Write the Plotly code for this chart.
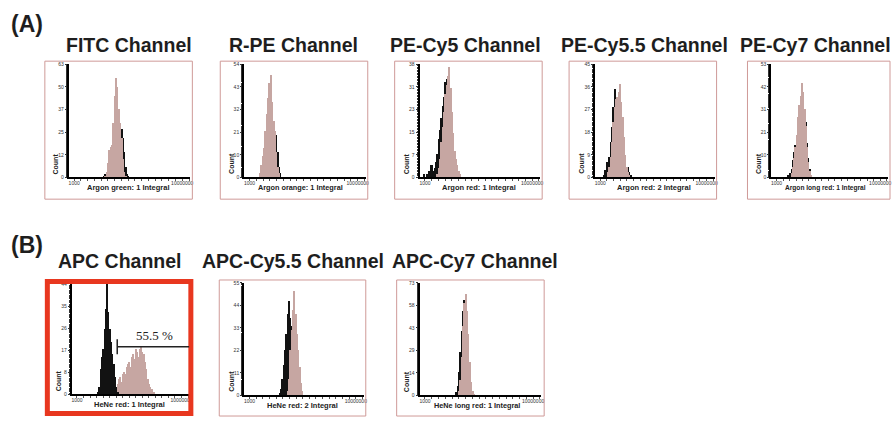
import numpy as np
import plotly.graph_objects as go

W, H = 894, 421
BIN = 0.05

titles = ["FITC Channel", "R-PE Channel", "PE-Cy5 Channel", "PE-Cy5.5 Channel", "PE-Cy7 Channel",
          "APC Channel", "APC-Cy5.5 Channel", "APC-Cy7 Channel"]
xlabels = ["Argon green: 1 Integral", "Argon orange: 1 Integral", "Argon red: 1 Integral",
           "Argon red: 2 Integral", "Argon long red: 1 Integral",
           "HeNe red: 1 Integral", "HeNe red: 2 Integral", "HeNe long red: 1 Integral"]
ymax = [63, 54, 38, 45, 53, 44, 55, 73]
ytick_labels = [["0", "12", "25", "37", "50", "63"],
                ["0", "10", "21", "32", "43", "54"],
                ["0", "7", "15", "23", "31", "38"],
                ["0", "9", "18", "27", "36", "45"],
                ["0", "10", "21", "31", "42", "53"],
                ["0", "8", "17", "26", "35", "44"],
                ["0", "11", "22", "33", "44", "55"],
                ["0", "14", "29", "43", "58", "73"]]
x_tick_vals = [3, 7]
x_tick_text = ["1000", "10000000"]

# histogram counts: (log10 start of first bin, counts)
black_start = [4.10, 3.40, 2.95, 3.15, 3.45, 3.80, 4.15, 4.15]
black_counts = [
    [1, 2, 3, 6, 10, 15, 18, 25, 38, 45, 42, 36, 30, 27, 22, 14, 6, 2, 1],
    [1, 3, 6, 10, 16, 24, 30, 34, 32, 30, 26, 22, 20, 12, 5, 2],
    [1, 0, 1, 1, 2, 4, 4, 2, 3, 5, 8, 13, 16, 20, 24, 27, 32, 33, 30, 28, 26, 20, 14, 9, 5, 3, 1],
    [1, 3, 6, 5, 8, 14, 20, 28, 35, 30, 28, 26, 22, 18, 12, 8, 5, 3, 4, 2, 1],
    [1, 0, 2, 4, 8, 12, 15, 18, 24, 30, 34, 38, 36, 30, 26, 16, 9, 4, 1],
    [1, 3, 10, 15, 18, 26, 34, 44, 33, 26, 21, 16, 12, 7, 3, 1],
    [1, 3, 8, 15, 22, 30, 40, 46, 38, 34, 22, 10, 3, 1],
    [2, 6, 15, 28, 42, 55, 62, 40, 12, 3, 1],
]
pink_start = [4.15, 3.40, 3.45, 3.30, 3.60, 4.45, 4.45, 4.25]
pink_counts = [
    [1, 3, 8, 15, 17, 18, 30, 45, 55, 50, 38, 30, 22, 10, 3, 1],
    [2, 6, 10, 14, 22, 30, 38, 45, 49, 36, 27, 22, 12, 5, 2],
    [1, 3, 6, 12, 17, 22, 28, 31, 34, 37, 30, 22, 15, 9, 6, 4, 2, 1],
    [2, 4, 8, 14, 22, 28, 31, 32, 34, 37, 30, 24, 16, 9, 4, 2, 1],
    [2, 5, 9, 14, 20, 28, 34, 38, 44, 40, 32, 24, 14, 7, 3, 1],
    [1, 2, 4, 6, 7, 5, 8, 9, 8, 11, 12, 13, 11, 15, 16, 14, 18, 17, 15, 18, 19, 17, 16, 13, 10, 6, 4, 3, 2, 1, 1],
    [2, 8, 22, 32, 42, 51, 40, 30, 22, 14, 6, 2],
    [3, 10, 25, 45, 60, 66, 55, 40, 22, 9, 3, 1],
]
gate_label = "55.5 %"
gate_from, gate_to, gate_level = 4.54, 7.3, 19
gate_text_x, gate_text_y = 5.98, 19.6

# layout in pixels: (box left, box top, box right, box bottom), (plot left, top, right, bottom)
boxes = [(45, 59, 193, 199), (221, 59, 369, 199), (396, 59, 544, 199), (571, 59, 719, 199), (750, 59, 893, 199),
         (45, 280, 194, 419), (220, 281, 367, 419), (398, 281, 546, 419)]
plots = [(69, 62, 191, 177), (245, 62, 367, 177), (421, 62, 542, 177), (597, 62, 717, 177), (774, 62, 891, 177),
         (72, 285, 190, 397), (245, 284, 365, 398), (421, 284, 543, 398)]
title_pos = [(129, 43), (294, 43), (467, 43), (647, 43), (818, 43), (120, 262), (294, 262), (477, 262)]
xlabel_shift = [0, -3, 0, 0, -3, 0, 0, -2]
xlabel_size = [7.5, 7.3, 7.5, 7.5, 6.6, 7.5, 7.5, 7.3]

BLACK = "#121212"
PINK = "#c6a6a2"
XR = [2.8, 7.3]

def px(x):
    return x / W

def py(y):
    return 1 - y / H

fig = go.Figure()
layout = dict(width=W, height=H, margin=dict(l=0, r=0, t=0, b=0), paper_bgcolor="white",
              plot_bgcolor="white", showlegend=False, barmode="overlay", bargap=0)
shapes, annotations = [], []

for i in range(8):
    n = i + 1
    xa, ya = f"x{n}", f"y{n}"
    bx = np.round(black_start[i] + BIN * np.arange(len(black_counts[i])), 3)
    pxs = np.round(pink_start[i] + BIN * np.arange(len(pink_counts[i])), 3)
    tb = go.Bar(x=bx, y=black_counts[i], width=BIN, marker=dict(color=BLACK, line=dict(width=0)),
                xaxis=xa, yaxis=ya)
    tp = go.Bar(x=pxs, y=pink_counts[i], width=BIN, marker=dict(color=PINK, line=dict(width=0)),
                xaxis=xa, yaxis=ya)
    if i == 5:
        fig.add_trace(tp); fig.add_trace(tb)
    else:
        fig.add_trace(tb); fig.add_trace(tp)
    l, t, r, b = plots[i]
    step = ymax[i] / 5
    layout[f"xaxis{n}"] = dict(domain=[px(l), px(r)], range=XR, anchor=ya, showgrid=False, zeroline=False,
                               showline=True, linecolor="black", linewidth=2, tickvals=x_tick_vals,
                               ticktext=x_tick_text, ticks="", tickfont=dict(size=5, color="#333",
                               family="Liberation Sans"),
                               minor=dict(ticks="outside", dtick=0.25, ticklen=2, tickcolor="#555"))
    layout[f"yaxis{n}"] = dict(domain=[py(b), py(t)], range=[0, ymax[i]], anchor=xa, showgrid=False,
                               zeroline=False, showline=True, linecolor="black", linewidth=2,
                               tickvals=[k * step for k in range(6)], ticktext=ytick_labels[i],
                               ticks="outside", ticklen=2, tickcolor="#333",
                               tickfont=dict(size=5, color="#333", family="Liberation Sans"),
                               minor=dict(ticks="outside", ticklen=1, tickcolor="#333", nticks=30))
    bl, bt, br, bb = boxes[i]
    if i == 5:
        shapes.append(dict(type="rect", xref="paper", yref="paper", x0=px(bl + 2.5), x1=px(br - 2.5),
                           y0=py(bb - 2.5), y1=py(bt + 2.5), line=dict(color="#e8371f", width=5)))
    else:
        shapes.append(dict(type="rect", xref="paper", yref="paper", x0=px(bl), x1=px(br),
                           y0=py(bb), y1=py(bt), line=dict(color="#cf9a98", width=1)))
    tx, ty = title_pos[i]
    annotations.append(dict(x=px(tx), y=py(ty), xref="paper", yref="paper", text=f"<b>{titles[i]}</b>",
                            showarrow=False, font=dict(size=19.5, color="#1e1e1e", family="Liberation Sans"),
                            xanchor="center", yanchor="middle"))
    annotations.append(dict(x=px((l + r) / 2 - 1 + xlabel_shift[i]), y=py(b + 10.5), xref="paper", yref="paper",
                            text=f"<b>{xlabels[i]}</b>", showarrow=False,
                            font=dict(size=xlabel_size[i], color="#222", family="Liberation Sans"),
                            xanchor="center", yanchor="middle"))
    annotations.append(dict(x=px(l - 13), y=py(b - 14), xref="paper", yref="paper", text="<b>Count</b>",
                            textangle=-90, showarrow=False,
                            font=dict(size=7, color="#222", family="Liberation Sans"),
                            xanchor="center", yanchor="middle"))

# gate in APC panel
shapes.append(dict(type="line", xref="x6", yref="y6", x0=gate_from, x1=gate_to, y0=gate_level, y1=gate_level,
                   line=dict(color="#222", width=1.5)))
shapes.append(dict(type="line", xref="x6", yref="y6", x0=gate_from, x1=gate_from, y0=gate_level - 3,
                   y1=gate_level + 3, line=dict(color="#222", width=1.5)))
annotations.append(dict(x=gate_text_x, y=gate_text_y, xref="x6", yref="y6", text=gate_label, showarrow=False,
                        font=dict(size=13, color="#222", family="Liberation Serif"),
                        xanchor="center", yanchor="bottom"))

annotations.append(dict(x=px(9), y=py(21), xref="paper", yref="paper", text="<b>(A)</b>", showarrow=False,
                        font=dict(size=23, color="#1e1e1e", family="Liberation Sans"),
                        xanchor="left", yanchor="middle"))
annotations.append(dict(x=px(9), y=py(246), xref="paper", yref="paper", text="<b>(B)</b>", showarrow=False,
                        font=dict(size=23, color="#1e1e1e", family="Liberation Sans"),
                        xanchor="left", yanchor="middle"))

layout["shapes"] = shapes
layout["annotations"] = annotations
fig.update_layout(**layout)
fig.write_html("out.html")
